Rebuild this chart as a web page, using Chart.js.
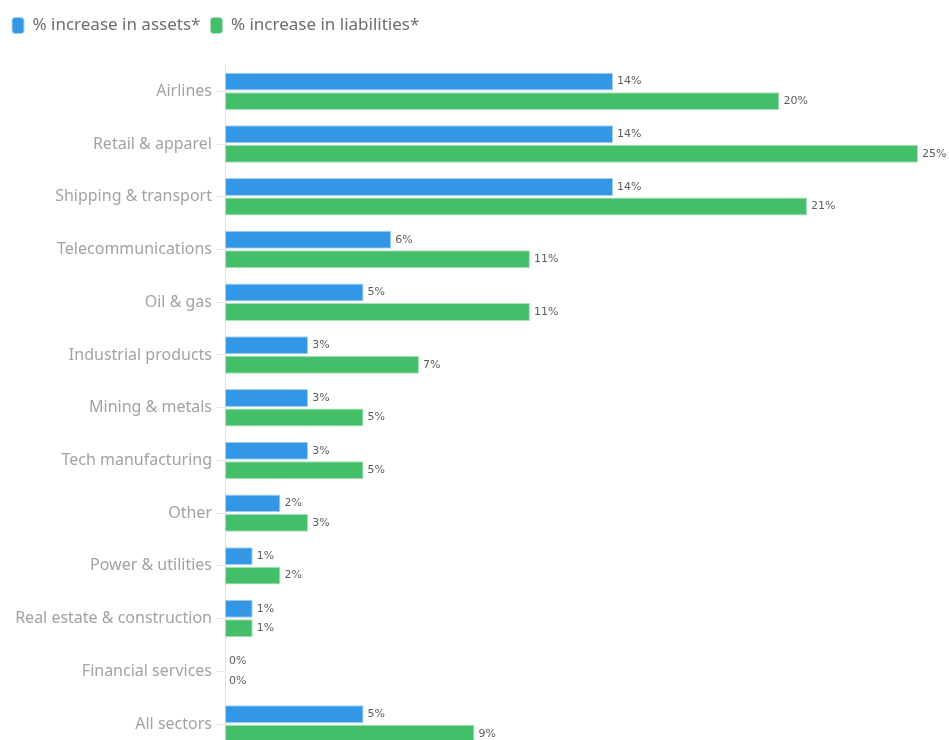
<!DOCTYPE html>
<html>
<head>
<meta charset="utf-8">
<script src="https://cdn.jsdelivr.net/npm/chart.js@4.4.1/dist/chart.umd.min.js"></script>
<style>
  html, body { margin: 0; padding: 0; background: #fff; overflow: hidden; }
  #wrap { width: 949px; height: 740px; overflow: hidden; }
</style>
</head>
<body>
<div id="wrap"><canvas id="chart" width="949" height="765"></canvas></div>
<script>
// Sectors and % increases
const sectors = [
  'Airlines', 'Retail & apparel', 'Shipping & transport', 'Telecommunications',
  'Oil & gas', 'Industrial products', 'Mining & metals', 'Tech manufacturing',
  'Other', 'Power & utilities', 'Real estate & construction', 'Financial services',
  'All sectors'
];
const assetsIncrease = [14, 14, 14, 6, 5, 3, 3, 3, 2, 1, 1, 0, 5];
const liabilitiesIncrease = [20, 25, 21, 11, 11, 7, 5, 5, 3, 2, 1, 0, 9];
const seriesNames = ['% increase in assets*', '% increase in liabilities*'];

//Draw the value text at the end of every bar
const valueLabels = {
  id: 'valueLabels',
  afterDatasetsDraw(chart) {
    const ctx = chart.ctx;
    ctx.save();
    ctx.font = '11px "DejaVu Sans"';
    ctx.fillStyle = '#5e5e5e';
    ctx.textBaseline = 'middle';
    ctx.textAlign = 'left';
    chart.data.datasets.forEach((ds, i) => {
      chart.getDatasetMeta(i).data.forEach((bar, j) => {
        ctx.fillText(ds.data[j] + '%', bar.x + 4, bar.y);
      });
    });
    ctx.restore();
  }
};

//Leave more room under the legend
const legendGap = {
  id: 'legendGap',
  beforeInit(chart) {
    const fit = chart.legend.fit;
    chart.legend.fit = function () {
      fit.bind(chart.legend)();
      this.height += 21;
    };
  }
};

new Chart(document.getElementById('chart'), {
  type: 'bar',
  data: {
    labels: sectors,
    datasets: [
      {
        label: seriesNames[0],
        data: assetsIncrease,
        backgroundColor: '#3397e6',
        borderColor: '#a9d3f4',
        borderWidth: 1,
        borderSkipped: false
      },
      {
        label: seriesNames[1],
        data: liabilitiesIncrease,
        backgroundColor: '#44be68',
        borderColor: '#a8e2b8',
        borderWidth: 1,
        borderSkipped: false
      }
    ]
  },
  options: {
    indexAxis: 'y',
    responsive: false,
    animation: false,
    categoryPercentage: 0.74,
    barPercentage: 0.92,
    layout: { padding: { left: 2, right: 31, top: 7, bottom: 0 } },
    plugins: {
      tooltip: { enabled: false },
      legend: {
        position: 'top',
        align: 'start',
        labels: {
          boxWidth: 12,
          boxHeight: 16,
          useBorderRadius: true,
          borderRadius: 3,
          padding: 10,
          color: '#6e6e6e',
          font: { family: '"Noto Sans"', size: 17 }
        }
      }
    },
    scales: {
      x: {
        display: false,
        min: 0,
        max: 25
      },
      y: {
        afterFit(scale) { scale.width = 223; },
        grid: {
          offset: false,
          drawOnChartArea: false,
          drawTicks: true,
          tickLength: 8,
          color: '#e3e3e3'
        },
        border: { display: true, color: '#e3e3e3' },
        ticks: {
          padding: 5,
          color: '#a3a3a3',
          font: { family: '"Noto Sans"', size: 16 }
        }
      }
    }
  },
  plugins: [valueLabels, legendGap]
});
</script>
</body>
</html>
